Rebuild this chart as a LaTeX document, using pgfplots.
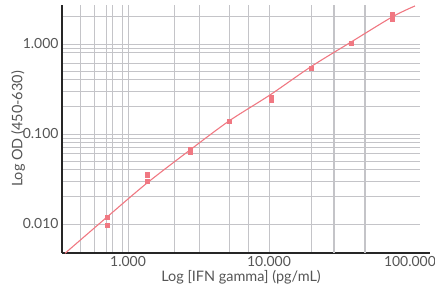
\documentclass[border=0pt]{standalone}
\usepackage{fontspec}
\setmainfont{Lato}
\usepackage{pgfplots}
\pgfplotsset{compat=1.18}
\definecolor{curve}{HTML}{F07882}
\definecolor{gridc}{HTML}{C4C4C8}
\definecolor{txt}{HTML}{555555}
\begin{document}
\begin{tikzpicture}
\begin{axis}[
  at={(0,0)}, anchor=south west,
  scale only axis, width=358bp, height=248bp,
  xmode=log, ymode=log,
  xmin=0.340, xmax=117.8, ymin=0.00476, ymax=2.71,
  axis lines*=left,
  axis line style={draw=black!85, line width=1.2bp},
  x axis line style={shorten >=-10bp},
  xtick={1,10,100}, xticklabels={1.000,10.000,100.000},
  ytick={0.01,0.1,1}, yticklabels={0.010,0.100,1.000},
  minor xtick={0.46,0.58,0.70,0.78,0.91,1.0,2.15,3.2,5.2,7.2,10,20,29,48},
  minor ytick={0.01,0.02,0.03,0.04,0.05,0.06,0.07,0.08,0.09,0.1,0.2,0.3,0.4,0.5,0.6,0.8,0.9,1,2},
  grid=minor,
  minor grid style={draw=gridc, line width=0.9bp},
  extra x ticks={29,48}, extra x tick labels={},
  extra x tick style={grid=major, major grid style={draw=gridc, line width=1.6bp}},
  major tick length=0pt, minor tick length=0pt,
  tick label style={font=\fontsize{14}{16}\selectfont, text=txt},
  xlabel={Log [IFN gamma] (pg/mL)},
  ylabel={Log OD (450-630)},
  every axis x label/.style={at={(axis description cs:0.5,0)}, yshift=-24bp, anchor=center, font=\fontsize{14.5}{16}\selectfont, text=txt},
  every axis y label/.style={at={(axis description cs:0,0.5)}, xshift=-44bp, anchor=center, rotate=90, font=\fontsize{14.5}{16}\selectfont, text=txt},
  clip=false,
]
\addplot[curve, line width=1.1bp, smooth, no marks] coordinates {
  (0.3574,0.004725) (0.7063,0.01187) (1.357,0.02833) (2.753,0.06645)
  (5.204,0.1394) (10.16,0.2713) (19.86,0.5596) (38.59,1.061)
  (75.4,2.011) (108.5,2.644)
};
\addplot[only marks, mark=square*, mark size=2bp, color=curve, mark options={draw=none, fill=curve}] coordinates {
  (0.706,0.0119) (0.706,0.00968)
  (1.357,0.0362) (1.357,0.0346) (1.357,0.0301)
  (2.753,0.068) (2.753,0.063)
  (5.204,0.139)
  (10.33,0.2576) (10.33,0.2344)
  (19.86,0.537)
  (38.6,1.031)
  (75.4,2.154) (75.4,1.995) (75.4,1.862)
};
\end{axis}
\pgfresetboundingbox
\path[use as bounding box] (-62bp,-35bp) rectangle (373bp,253bp);
\end{tikzpicture}
\end{document}
